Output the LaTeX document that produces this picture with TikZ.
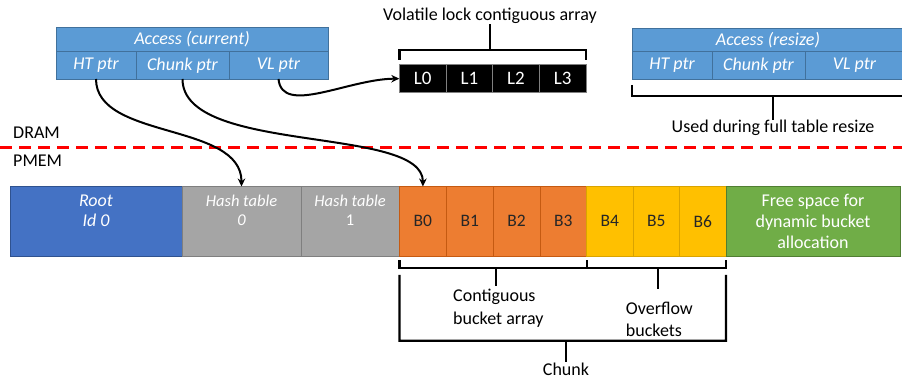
\documentclass[tikz,border=0pt]{standalone}
\usepackage{fontspec}
\setmainfont{Carlito}
\usetikzlibrary{arrows.meta,calc}

\definecolor{accblue}{HTML}{5B9BD5}
\definecolor{accedge}{HTML}{41719C}
\definecolor{rootblue}{HTML}{4472C4}
\definecolor{rootedge}{HTML}{2F528F}
\definecolor{htgray}{HTML}{A5A5A5}
\definecolor{htedge}{HTML}{7F7F7F}
\definecolor{bkorange}{HTML}{ED7D31}
\definecolor{orangeedge}{HTML}{C55A11}
\definecolor{bkyellow}{HTML}{FFC000}
\definecolor{yellowedge}{HTML}{D9A300}
\definecolor{freegreen}{HTML}{70AD47}
\definecolor{greenedge}{HTML}{507E32}
\definecolor{dramred}{HTML}{FF0000}

\begin{document}
\begin{tikzpicture}[x=1pt,y=-1pt,
  cell/.style={draw,anchor=north west,inner sep=0pt,outer sep=0pt,line width=0.8pt},
  accesscell/.style={cell,fill=accblue,draw=accedge,text=white,
    font=\fontsize{18}{21}\selectfont\itshape},
  lockcell/.style={cell,fill=black,draw=gray,text=white,line width=1pt,
    minimum width=46.7pt,minimum height=27.3pt,font=\fontsize{19}{22}\selectfont},
  orangecell/.style={cell,fill=bkorange,draw=orangeedge,text=black!85,
    minimum width=46.8pt,minimum height=69.5pt,font=\fontsize{17.5}{21}\selectfont},
  yellowcell/.style={cell,fill=bkyellow,draw=yellowedge,text=black!85,
    minimum width=46.43pt,minimum height=69.5pt,font=\fontsize{17.5}{21}\selectfont},
  plaintext/.style={inner sep=0pt,font=\fontsize{18}{22}\selectfont},
  ptrarrow/.style={line width=2pt,-{Stealth[length=8pt,width=7.5pt]}},
  bracket/.style={line width=2.4pt,line join=miter}
]
\useasboundingbox (0,0) rectangle (902,379);

% ---- Access (current) ----
\node[accesscell,minimum width=272pt,minimum height=24pt] (acchead) at (56,27.5) {Access (current)};
\node[accesscell,minimum width=80pt,minimum height=27.5pt] (htp) at (56,51.5) {HT ptr};
\node[accesscell,minimum width=93pt,minimum height=27.5pt] (chp) at (136,51.5) {Chunk ptr};
\node[accesscell,minimum width=99pt,minimum height=27.5pt] (vlp) at (229,51.5) {VL ptr};

% ---- Access (resize) ----
\node[accesscell,minimum width=272pt,minimum height=23.5pt] (rshead) at (632,28) {Access (resize)};
\node[accesscell,minimum width=80pt,minimum height=27.5pt] (rhtp) at (632,51.5) {HT ptr};
\node[accesscell,minimum width=93pt,minimum height=27.5pt] (rchp) at (712,51.5) {Chunk ptr};
\node[accesscell,minimum width=99pt,minimum height=27.5pt] (rvlp) at (805,51.5) {VL ptr};

% ---- Volatile lock array ----
\node[lockcell] (L0) at (399.3,65) {L0};
\node[lockcell] (L1) at (446,65) {L1};
\node[lockcell] (L2) at (492.7,65) {L2};
\node[lockcell] (L3) at (539.4,65) {L3};
\node[plaintext] (vltitle) at (490,16) {Volatile lock contiguous array};
\draw[bracket] ($(L0.north west)+(0,-5)$) -- ++(0,-10) -| ($(L3.north east)+(0,-5)$);
\draw[bracket] (490,50) -- (vltitle.south);

% ---- Resize bracket ----
\node[plaintext] (resizelbl) at (773,128) {Used during full table resize};
\draw[bracket] ($(rhtp.south west)+(0,6)$) -- ++(0,11) -- (904,96);
\draw[bracket] (773,96) -- (resizelbl.north);

% ---- DRAM / PMEM divide ----
\coordinate (divl) at (0,148);
\coordinate (divr) at (902,148);
\draw[dramred,line width=3pt,dash pattern=on 12pt off 7pt] (divl) -- (divr);
\node[plaintext,anchor=west] (dram) at (13,133) {DRAM};
\node[plaintext,anchor=west] (pmem) at (13,160.5) {PMEM};

% ---- Persistent memory layout ----
\node[cell,fill=rootblue,draw=rootedge,minimum width=172pt,minimum height=69.5pt] (root) at (10,186.5) {};
\node[cell,fill=htgray,draw=htedge,minimum width=119pt,minimum height=69.5pt] (ht0) at (182,186.5) {};
\node[cell,fill=htgray,draw=htedge,minimum width=98.5pt,minimum height=69.5pt] (ht1) at (301,186.5) {};
\node[orangecell] (B0) at (399.5,186.5) {B0};
\node[orangecell] (B1) at (446.3,186.5) {B1};
\node[orangecell] (B2) at (493.1,186.5) {B2};
\node[orangecell] (B3) at (539.9,186.5) {B3};
\node[yellowcell] (B4) at (586.7,186.5) {B4};
\node[yellowcell] (B5) at (633.13,186.5) {B5};
\node[yellowcell] (B6) at (679.56,186.5) {B6};
\node[cell,fill=freegreen,draw=greenedge,minimum width=174pt,minimum height=69.5pt,
  text=white,align=center,font=\fontsize{18}{21}\selectfont] (free) at (726,186.5)
  {Free space for\\dynamic bucket\\allocation};

\node[inner sep=0pt,text=white,align=center,font=\fontsize{18}{20}\selectfont\itshape]
  (rootlbl) at (96,210.5) {Root\\Id 0};
\node[inner sep=0pt,text=white,align=center,font=\fontsize{16.5}{19.5}\selectfont\itshape]
  (ht0lbl) at (241.5,210.5) {Hash table\\0};
\node[inner sep=0pt,text=white,align=center,font=\fontsize{16.5}{19.5}\selectfont]
  (ht1lbl) at (350,210.5) {\itshape Hash table\\1};

% ---- Pointers ----
\draw[ptrarrow] (htp.south) .. controls (96,140) and (241.5,122) .. (ht0.north);
\draw[ptrarrow] (chp.south) .. controls (182.5,155) and (423,125) .. (B0.north);
\draw[ptrarrow] (vlp.south) .. controls (282,116) and (348,79) .. (L0.west);

% ---- Chunk brackets ----
\draw[bracket] ($(B0.south west)+(0,4.5)$) -- ++(0,7.8) -| ($(B6.south east)+(0,4.5)$);
\draw[bracket] ($(B4.south west)+(0,4.5)$) -- ++(0,7.8);
\node[plaintext,align=left,anchor=west,font=\fontsize{18}{23}\selectfont] (contig) at (453,308.5) {Contiguous\\bucket array};
\node[plaintext,align=left,anchor=west,font=\fontsize{18}{22}\selectfont] (overflow) at (625.7,319) {Overflow\\buckets};
\draw[bracket] (495.7,268.3) -- (495.7,286);
\draw[bracket] (657.7,268.3) -- (657.7,289.3);
\draw[bracket] ($(B0.south west)+(0,19)$) -- (399.5,340.7) -- (726,340.7) -- ($(B6.south east)+(0,19)$);
\node[plaintext] (chunk) at (566,369) {Chunk};
\draw[bracket] (566,340.7) -- (chunk.north);
\end{tikzpicture}
\end{document}
